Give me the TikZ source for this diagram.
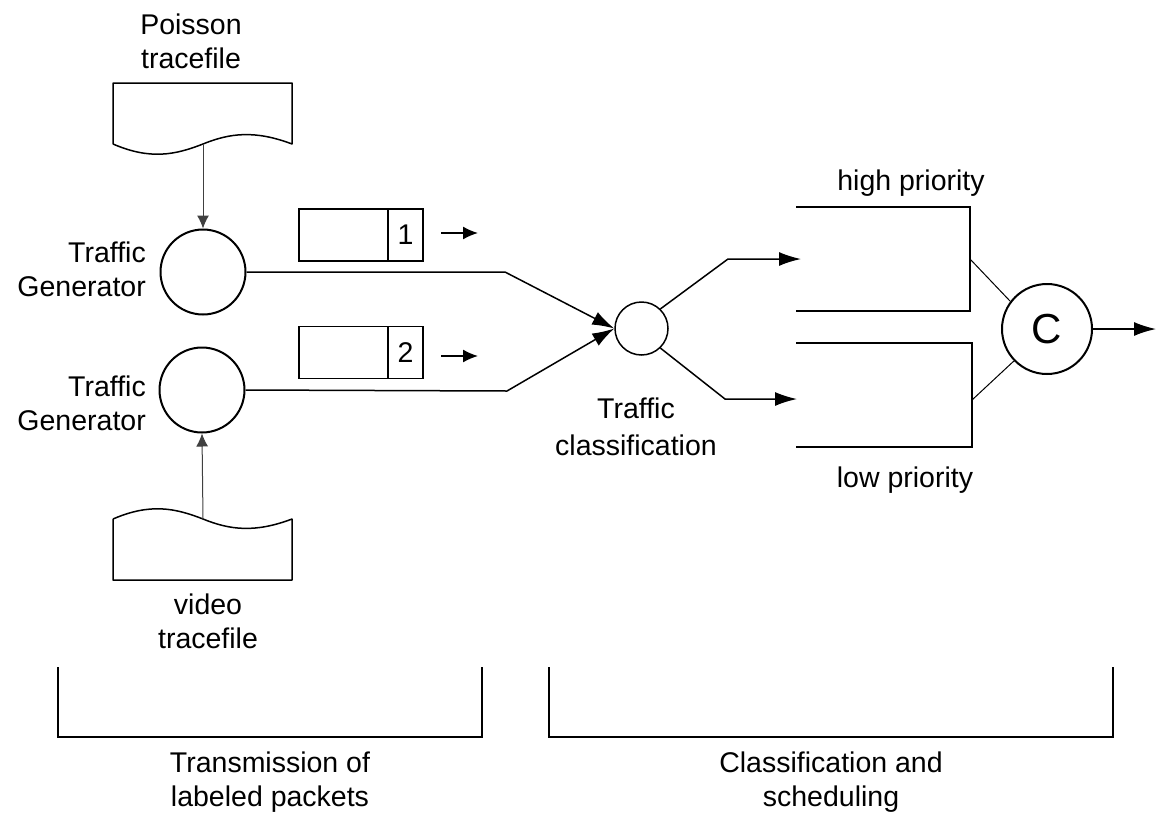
\documentclass[tikz,border=0pt]{standalone}
\usepackage{fontspec}
\setmainfont{Liberation Sans}
\usetikzlibrary{arrows.meta}
\begin{document}
\begin{tikzpicture}[x=1pt,y=-1pt,
  lbl/.style={font=\fontsize{28.5}{34}\selectfont, align=center, inner sep=0pt},
  gen/.style={circle, draw, line width=2pt, minimum size=85pt, inner sep=0pt},
  doc/.style={draw, line width=1.5pt, line join=round},
  docarrow/.style={draw=black!75, line width=1pt, -{Latex[length=13pt,width=12pt]}},
  conn/.style={draw, line width=1.5pt, -{Latex[length=22pt,width=14pt]}},
  pkarrow/.style={draw, line width=1.5pt, -{Latex[length=15pt,width=13pt]}},
  pkbox/.style={draw, line width=1.5pt, minimum height=52pt, inner sep=0pt},
  queue/.style={draw, line width=2pt},
  thin/.style={draw, line width=1pt},
  bracket/.style={draw, line width=2pt}
]
\useasboundingbox (0,0) rectangle (1156,814);
% Poisson document
\draw[doc] (113,144) -- (113,83) -- (292,83) -- (292,144)
  .. controls (255,130) and (230,133) .. (203,144) coordinate (pdoc)
  .. controls (175,155) and (150,160) .. (113,144);
\node[lbl] (plab) at (191,41) {Poisson\\tracefile};
% video document
\draw[doc] (113,519) -- (113,580) -- (292,580) -- (292,519)
  .. controls (255,533) and (230,530) .. (203,519) coordinate (vdoc)
  .. controls (175,508) and (150,503) .. (113,519);
\node[lbl] (vlab) at (208,621) {video\\tracefile};
% generators
\node[gen] (g1) at (203,272) {};
\node[gen] (g2) at (202,390) {};
\node[lbl, align=right, anchor=east] (g1lab) at (146,269.5) {Traffic\\Generator};
\node[lbl, align=right, anchor=east] (g2lab) at (146,403) {Traffic\\Generator};
\draw[docarrow] (pdoc) -- (g1.north);
\draw[docarrow] (vdoc) -- (g2.south);
% packets
\node[pkbox, minimum width=124pt] (pk1) at (361,235) {};
\node[pkbox, minimum width=35pt, lbl] (n1) at (405.5,235) {1};
\node[pkbox, minimum width=124pt] (pk2) at (361,352.5) {};
\node[pkbox, minimum width=35pt, lbl] (n2) at (405.5,352.5) {2};
\coordinate (a1s) at (441,233); \coordinate (a1e) at (478,233);
\coordinate (a2s) at (441,356); \coordinate (a2e) at (478,356);
\draw[pkarrow] (a1s) -- (a1e);
\draw[pkarrow] (a2s) -- (a2e);
% classification
\node[circle, draw, line width=1.5pt, minimum size=53pt, inner sep=0pt] (cls) at (641.5,328.5) {};
\node[lbl, font=\fontsize{28.5}{37}\selectfont] (clslab) at (636,427) {Traffic\\classification};
\coordinate (b1) at (505,272);
\coordinate (b2) at (507,391);
\draw[conn] (g1.east) -- (b1) -- (cls.west);
\draw[conn] (g2.east) -- (b2) -- (cls.west);
\coordinate (u1) at (728,259); \coordinate (u2) at (801,259);
\coordinate (l1) at (725,399); \coordinate (l2) at (797,399);
\draw[conn] (cls.46) -- (u1) -- (u2);
\draw[conn] (cls.-46) -- (l1) -- (l2);
% queues
\draw[queue] (796,207) -- (970,207) -- (970,311) -- (796,311);
\draw[queue] (796,343) -- (972,343) -- (972,447) -- (796,447);
\node[lbl] (hp) at (911,183.5) {high priority};
\node[lbl] (lp) at (905,480) {low priority};
% scheduler
\node[circle, draw, line width=2pt, minimum size=90pt, inner sep=0pt, font=\fontsize{42}{48}\selectfont] (C) at (1047,329) {C};
\coordinate (q1) at (970,259);
\coordinate (q2) at (972,400);
\draw[thin] (q1) -- (C.143);
\draw[thin] (q2) -- (C.-136);
\coordinate (out) at (1156,329);
\draw[conn] (C.east) -- (out);
% brackets
\draw[bracket] (58,667) -- (58,737) -- (482,737) -- (482,667);
\draw[bracket] (549,667) -- (549,737) -- (1113,737) -- (1113,667);
\node[lbl] (t1) at (270,782) {Transmission of\\labeled packets};
\node[lbl] (t2) at (831,782) {Classification and\\scheduling};
\end{tikzpicture}
\end{document}
